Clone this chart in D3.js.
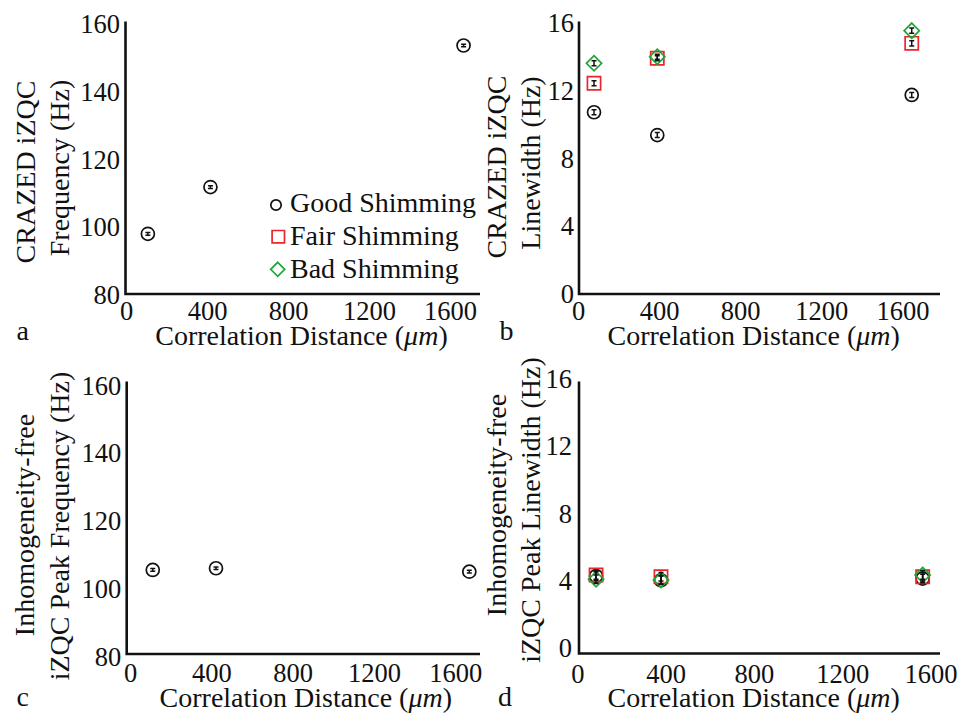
<!DOCTYPE html>
<html>
<head>
<meta charset="utf-8">
<script src="https://cdn.jsdelivr.net/npm/d3@7"></script>
<style>
  html, body { margin: 0; padding: 0; background: #fff; }
  svg { display: block; }
  text { font-family: "Liberation Serif", "Times New Roman", serif; fill: #111; }
</style>
</head>
<body>
<svg id="fig" width="966" height="718"></svg>
<script>
// Shared tick values and series names
const xTicks = [0, 400, 800, 1200, 1600];
const freqTicks = [80, 100, 120, 140, 160];
const lwTicks = [0, 4, 8, 12, 16];
const seriesNames = ["Good Shimming", "Fair Shimming", "Bad Shimming"];

// (a) CRAZED iZQC frequency, good shimming
const distA = [108, 417, 1667];
const crazedFreqGood = [97.9, 111.7, 153.5];
const crazedFreqErr = [0.4, 0.4, 0.4];

// (b) CRAZED iZQC linewidth
const distB = [79, 391, 1646];
const crazedLwGood = [10.71, 9.36, 11.73];
const crazedLwFair = [12.42, 13.90, 14.78];
const crazedLwBad = [13.60, 13.99, 15.53];
const crazedLwErr = [0.15, 0.15, 0.15];

// (c) inhomogeneity-free iZQC peak frequency, good shimming
const distC = [112, 423, 1669];
const freeFreqGood = [105.4, 105.9, 104.9];
const freeFreqErr = [0.4, 0.4, 0.4];

// (d) inhomogeneity-free iZQC peak linewidth
const distD = [85, 379, 1564];
const freeLwGood = [4.25, 4.00, 4.10];
const freeLwFair = [4.31, 4.21, 4.21];
const freeLwBad = [4.06, 4.02, 4.31];
const freeLwErr = [0.25, 0.25, 0.25];

const RED = "#e8262b", GREEN = "#1fa637", BLACK = "#111";
const svg = d3.select("#fig");
const TICK_FS = 26.5, TITLE_FS = 28;

function symbolPath(kind, cx, cy, s) {
  if (kind === 0) return null;
  if (kind === 1) return `M${cx - s},${cy - s}H${cx + s}V${cy + s}H${cx - s}Z`;
  return `M${cx},${cy - s}L${cx + s},${cy}L${cx},${cy + s}L${cx - s},${cy}Z`;
}

function drawMarker(g, kind, cx, cy, size) {
  if (kind === 0) {
    g.append("circle").attr("cx", cx).attr("cy", cy).attr("r", size)
      .attr("fill", "none").attr("stroke", BLACK).attr("stroke-width", 1.7);
  } else {
    g.append("path").attr("d", symbolPath(kind, cx, cy, size))
      .attr("fill", "none").attr("stroke", kind === 1 ? RED : GREEN)
      .attr("stroke-width", 1.7);
  }
}

function panel(cfg) {
  const g = svg.append("g");
  const x = d3.scaleLinear().domain([0, 1600]).range(cfg.xRange);
  const y = d3.scaleLinear().domain(d3.extent(cfg.yTicks)).range(cfg.yRange);

  // axis frame (left and bottom lines)
  g.append("path")
    .attr("d", `M${cfg.axisX},${cfg.top}V${cfg.bottom}H${cfg.right}`)
    .attr("fill", "none").attr("stroke", BLACK).attr("stroke-width", 2.6)
    .attr("stroke-linejoin", "miter");

  // x tick labels
  const xa = g.append("g").attr("transform", `translate(0,${cfg.bottom})`)
    .call(d3.axisBottom(x).tickValues(cfg.xTicks).tickSize(0).tickFormat(d3.format("d")));
  xa.select(".domain").remove();
  xa.selectAll("text").attr("y", cfg.xTickBase - cfg.bottom).attr("dy", 0)
    .style("font-size", TICK_FS + "px").style("font-family", "Liberation Serif").attr("fill", BLACK);

  // y tick labels
  const ya = g.append("g").attr("transform", `translate(${cfg.axisX},0)`)
    .call(d3.axisLeft(y).tickValues(cfg.yTicks).tickSize(0).tickFormat(d3.format("d")));
  ya.select(".domain").remove();
  ya.selectAll("text").attr("x", -cfg.yTickGap).attr("dy", "0.34em")
    .style("font-size", TICK_FS + "px").style("font-family", "Liberation Serif").attr("fill", BLACK);

  // x title
  const xt = g.append("text").attr("x", cfg.xTitleX).attr("y", cfg.xTitleY)
    .attr("text-anchor", "middle").style("font-size", TITLE_FS + "px");
  xt.append("tspan").text("Correlation Distance (");
  xt.append("tspan").style("font-style", "italic").text("\u03bcm");
  xt.append("tspan").text(")");

  // y title (two lines, rotated)
  cfg.yTitle.forEach((line, i) => {
    g.append("text")
      .attr("transform", `translate(${cfg.yTitleX[i]},${cfg.yTitleY[i]}) rotate(-90)`)
      .attr("text-anchor", "middle").style("font-size", TITLE_FS + "px").text(line);
  });

  // panel letter
  g.append("text").attr("x", cfg.letterX).attr("y", cfg.letterY)
    .style("font-size", TITLE_FS + "px").text(cfg.letter);

  // data series: markers then error bars
  cfg.series.forEach((vals, k) => {
    const sg = g.append("g");
    vals.forEach((v, i) => {
      drawMarker(sg, k, x(cfg.dist[i]), y(v), [6.5, 6.6, 7.6][k]);
    });
  });
  cfg.series.forEach((vals) => {
    const eg = g.append("g").attr("stroke", BLACK).attr("stroke-width", 1.5).attr("fill", "none");
    vals.forEach((v, i) => {
      const cx = x(cfg.dist[i]);
      const y0 = y(v - cfg.err[i]), y1 = y(v + cfg.err[i]);
      eg.append("path")
        .attr("d", `M${cx},${y0}V${y1}M${cx - 2.5},${y0}H${cx + 2.5}M${cx - 2.5},${y1}H${cx + 2.5}`);
    });
  });
}

panel({
  xRange: [126, 450], yRange: [294.5, 23.5], yTicks: freqTicks, xTicks: xTicks,
  axisX: 125.5, top: 21.5, bottom: 294, right: 480,
  xTickBase: 320, yTickGap: 5.5,
  xTitleX: 301.5, xTitleY: 345,
  yTitle: ["CRAZED iZQC", "Frequency (Hz)"], yTitleX: [34.5, 68.5], yTitleY: [172, 168],
  letter: "a", letterX: 16.5, letterY: 340,
  dist: distA, series: [crazedFreqGood], err: crazedFreqErr
});

panel({
  xRange: [578, 902.4], yRange: [293.5, 22.7], yTicks: lwTicks, xTicks: xTicks,
  axisX: 579, top: 21.5, bottom: 294, right: 940,
  xTickBase: 320, yTickGap: 5,
  xTitleX: 753.7, xTitleY: 345,
  yTitle: ["CRAZED iZQC", "Linewidth (Hz)"], yTitleX: [506, 540], yTitleY: [167, 163],
  letter: "b", letterX: 499.5, letterY: 340,
  dist: distB, series: [crazedLwGood, crazedLwFair, crazedLwBad], err: crazedLwErr
});

panel({
  xRange: [130, 455.3], yRange: [656, 385], yTicks: freqTicks, xTicks: xTicks,
  axisX: 126.7, top: 381.5, bottom: 654, right: 480,
  xTickBase: 681.5, yTickGap: 5.5,
  xTitleX: 305.8, xTitleY: 706.5,
  yTitle: ["Inhomogeneity-free", "iZQC Peak Frequency (Hz)"], yTitleX: [33.5, 68.5], yTitleY: [525, 526],
  letter: "c", letterX: 16.5, letterY: 706,
  dist: distC, series: [freeFreqGood], err: freeFreqErr
});

panel({
  xRange: [577.3, 930.6], yRange: [647.5, 378.5], yTicks: lwTicks, xTicks: xTicks,
  axisX: 579, top: 381.5, bottom: 653.5, right: 940,
  xTickBase: 682.5, yTickGap: 7,
  xTitleX: 753.7, xTitleY: 706.5,
  yTitle: ["Inhomogeneity-free", "iZQC Peak Linewidth (Hz)"], yTitleX: [506, 540], yTitleY: [505, 510],
  letter: "d", letterX: 498, letterY: 706,
  dist: distD, series: [freeLwGood, freeLwFair, freeLwBad], err: freeLwErr
});

// legend inside panel (a)
const legend = svg.append("g");
const legendRows = [
  { cx: 276, cy: 205, size: 5.2, base: 211.7 },
  { cx: 278.3, cy: 236.7, size: 6.2, base: 245 },
  { cx: 277.7, cy: 269.3, size: 7, base: 278.3 }
];
seriesNames.forEach((name, k) => {
  const r = legendRows[k];
  drawMarker(legend, k, r.cx, r.cy, r.size);
  legend.append("text").attr("x", 290).attr("y", r.base)
    .style("font-size", TITLE_FS + "px").text(name);
});
</script>
</body>
</html>
